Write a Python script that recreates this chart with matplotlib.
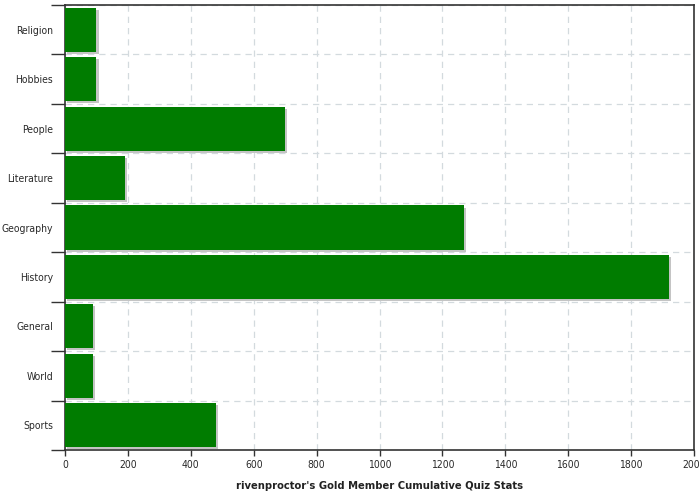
import matplotlib
matplotlib.use("Agg")
import matplotlib.pyplot as plt
import matplotlib.patheffects as pe
import numpy as np

categories = ["Religion", "Hobbies", "People", "Literature", "Geography",
              "History", "General", "World", "Sports"]
values = [100, 100, 700, 190, 1270, 1920, 90, 90, 480]
xticks = list(range(0, 2001, 200))
xlabel = "rivenproctor's Gold Member Cumulative Quiz Stats"

fig = plt.figure(figsize=(7, 5), dpi=100)
ax = fig.add_axes([65 / 700, 0.1, 629 / 700, 0.89])

n = len(categories)
ypos = np.arange(n)[::-1]
shadow = [pe.SimplePatchShadow(offset=(1.5, -1.5), shadow_rgbFace="#c4c4c4", alpha=1), pe.Normal()]
ax.barh(ypos, values, height=0.89, color="#007c00", linewidth=0,
        path_effects=shadow, zorder=3)

ax.set_xlim(0, 2000)
ax.set_ylim(-0.5, n - 0.5)

ax.set_xticks(xticks)
ax.set_xticklabels([str(t) for t in xticks], fontsize=7.5, color="#2a2a2a", fontstretch="condensed")
ax.set_yticks(ypos)
ax.set_yticklabels(categories, fontsize=7.5, color="#2a2a2a", fontstretch="condensed")
# ticks sit on the boundaries between categories
ax.set_yticks(np.arange(n + 1) - 0.5, minor=True)
ax.tick_params(axis="y", which="major", length=0, pad=8.5)
ax.tick_params(axis="y", which="minor", length=10, width=1, color="#333333")
ax.tick_params(axis="x", length=4, width=1, color="#333333", pad=3)

ax.grid(True, axis="x", which="major", color="#d3dade", linestyle=(0, (5, 4)), linewidth=0.9, zorder=0)
ax.grid(True, axis="y", which="minor", color="#d3dade", linestyle=(0, (5, 4)), linewidth=0.9, zorder=0)
ax.set_axisbelow(True)

for side in ["left", "bottom", "top", "right"]:
    ax.spines[side].set_color("#333333")
    ax.spines[side].set_linewidth(1.2)

ax.set_xlabel(xlabel, fontsize=8, fontweight="bold", color="#222222", labelpad=8,
              fontstretch="condensed")

fig.savefig("out.png", dpi=100)
